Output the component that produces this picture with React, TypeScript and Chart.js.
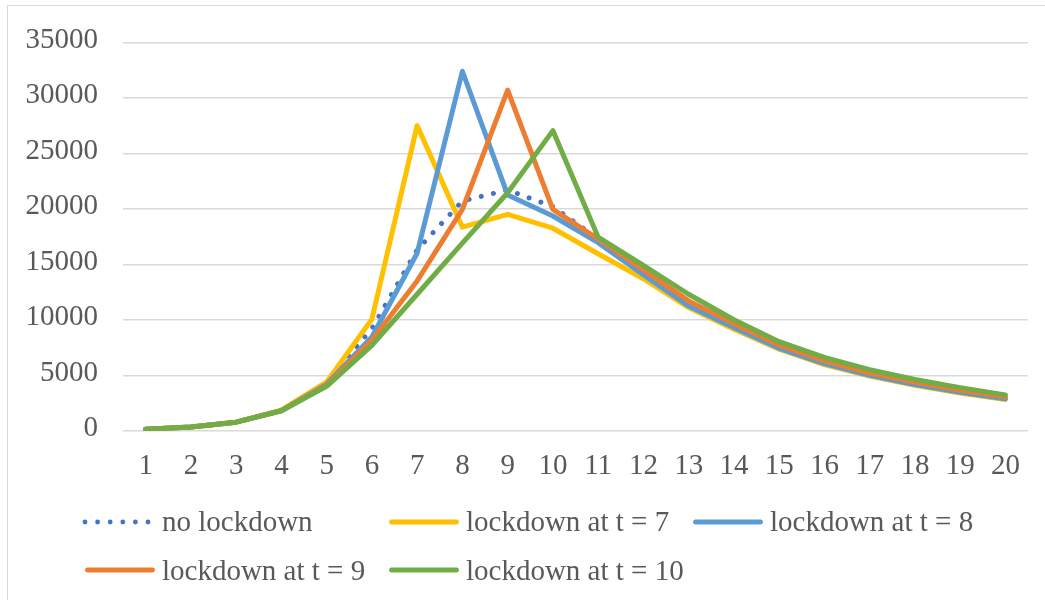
import React, { useEffect, useRef } from "react";
import { Chart, registerables } from "chart.js";

Chart.register(...registerables);

const xLabels = ["1","2","3","4","5","6","7","8","9","10","11","12","13","14","15","16","17","18","19","20"];
const noLockdown = [120, 330, 770, 1850, 4350, 9200, 16300, 20700, 21700, 20200, 17300, 14300, 11500, 9450, 7550, 6150, 5100, 4250, 3550, 2950];
const lockdown7 = [120, 330, 770, 1850, 4400, 10050, 27500, 18350, 19500, 18250, 15950, 13700, 11100, 9150, 7350, 5950, 4920, 4100, 3400, 2820];
const lockdown8 = [120, 330, 770, 1800, 4200, 8450, 16000, 32400, 21250, 19350, 16950, 14050, 11250, 9300, 7430, 6040, 5000, 4170, 3460, 2870];
const lockdown9 = [120, 330, 770, 1800, 4100, 8150, 13500, 19950, 30700, 19950, 17280, 14500, 11700, 9650, 7720, 6300, 5200, 4380, 3640, 3050];
const lockdown10 = [120, 330, 770, 1800, 4000, 7700, 12300, 16900, 21450, 27050, 17450, 14900, 12300, 10000, 8020, 6600, 5500, 4620, 3880, 3230];
const seriesNames = ["no lockdown", "lockdown at t = 7", "lockdown at t = 8", "lockdown at t = 9", "lockdown at t = 10"];
const seriesColors = ["#4472C4", "#FFC000", "#5B9BD5", "#ED7D31", "#70AD47"];

const FONT = '"Liberation Serif", "Times New Roman", serif';
const TEXT = "#595959";

export default function App() {
  const ref = useRef<HTMLCanvasElement | null>(null);

  useEffect(() => {
    if (!ref.current) return;
    const values = [noLockdown, lockdown7, lockdown8, lockdown9, lockdown10];
    const orders = [5, 4, 3, 2, 1];
    const chart = new Chart(ref.current, {
      type: "line",
      data: {
        labels: xLabels,
        datasets: values.map((v, i) => ({
          label: seriesNames[i],
          data: v,
          borderColor: seriesColors[i],
          backgroundColor: seriesColors[i],
          borderWidth: 5,
          borderCapStyle: "round" as const,
          borderJoinStyle: "round" as const,
          borderDash: i === 0 ? [0.01, 12.5] : [],
          pointRadius: 0,
          tension: 0,
          fill: false,
          order: orders[i],
        })),
      },
      options: {
        responsive: false,
        animation: false,
        layout: { padding: { top: 34.6, left: 0, right: 17, bottom: 119.3 } },
        plugins: { legend: { display: false }, tooltip: { enabled: false } },
        scales: {
          x: {
            offset: true,
            grid: { display: false, drawTicks: false },
            border: { display: false },
            ticks: { color: TEXT, font: { family: FONT, size: 29 }, padding: 18, maxRotation: 0, autoSkip: false },
            afterFit: (s: any) => { s.height = 50; },
          },
          y: {
            min: 0,
            max: 35000,
            grid: { color: "#D9D9D9", lineWidth: 1.4, drawTicks: false },
            border: { display: false },
            ticks: {
              stepSize: 5000,
              color: TEXT,
              font: { family: FONT, size: 29 },
              padding: 25,
              labelOffset: -2,
              callback: (v: any) => String(v),
            },
            afterFit: (s: any) => { s.width = 123; },
          },
        },
      },
    });
    return () => chart.destroy();
  }, []);

  const cols = [85, 389, 693];
  const rows = [521.7, 570];
  const items = seriesNames.map((name, i) => ({
    name,
    color: seriesColors[i],
    dotted: i === 0,
    x: i === 3 ? cols[0] : i === 4 ? cols[1] : cols[i],
    y: i < 3 ? rows[0] : rows[1],
  }));

  return (
    <div style={{ position: "absolute", left: 0, top: 0, width: 1045, height: 600, overflow: "hidden", background: "#fff" }}>
      <canvas ref={ref} width={1045} height={600} style={{ position: "absolute", left: 0, top: 0, width: 1045, height: 600 }} />
      <div style={{ position: "absolute", left: 7, top: 5, width: 1100, height: 700, border: "1px solid #D9D9D9", pointerEvents: "none" }} />
      {items.map((it) => (
        <div key={it.name}>
          <svg style={{ position: "absolute", left: it.x - 5, top: it.y - 6 }} width={82} height={12}>
            {it.dotted ? (
              <line x1={5} y1={6} x2={68.5} y2={6} stroke={it.color} strokeWidth={4.8} strokeLinecap="round" strokeDasharray="0 12.6" />
            ) : (
              <line x1={7.4} y1={6} x2={72.6} y2={6} stroke={it.color} strokeWidth={4.8} strokeLinecap="round" />
            )}
          </svg>
          <div style={{ position: "absolute", left: it.x + 77, top: it.y - 14.5, fontFamily: FONT, fontSize: 29, lineHeight: "29px", color: TEXT, whiteSpace: "nowrap" }}>
            {it.name}
          </div>
        </div>
      ))}
    </div>
  );
}
